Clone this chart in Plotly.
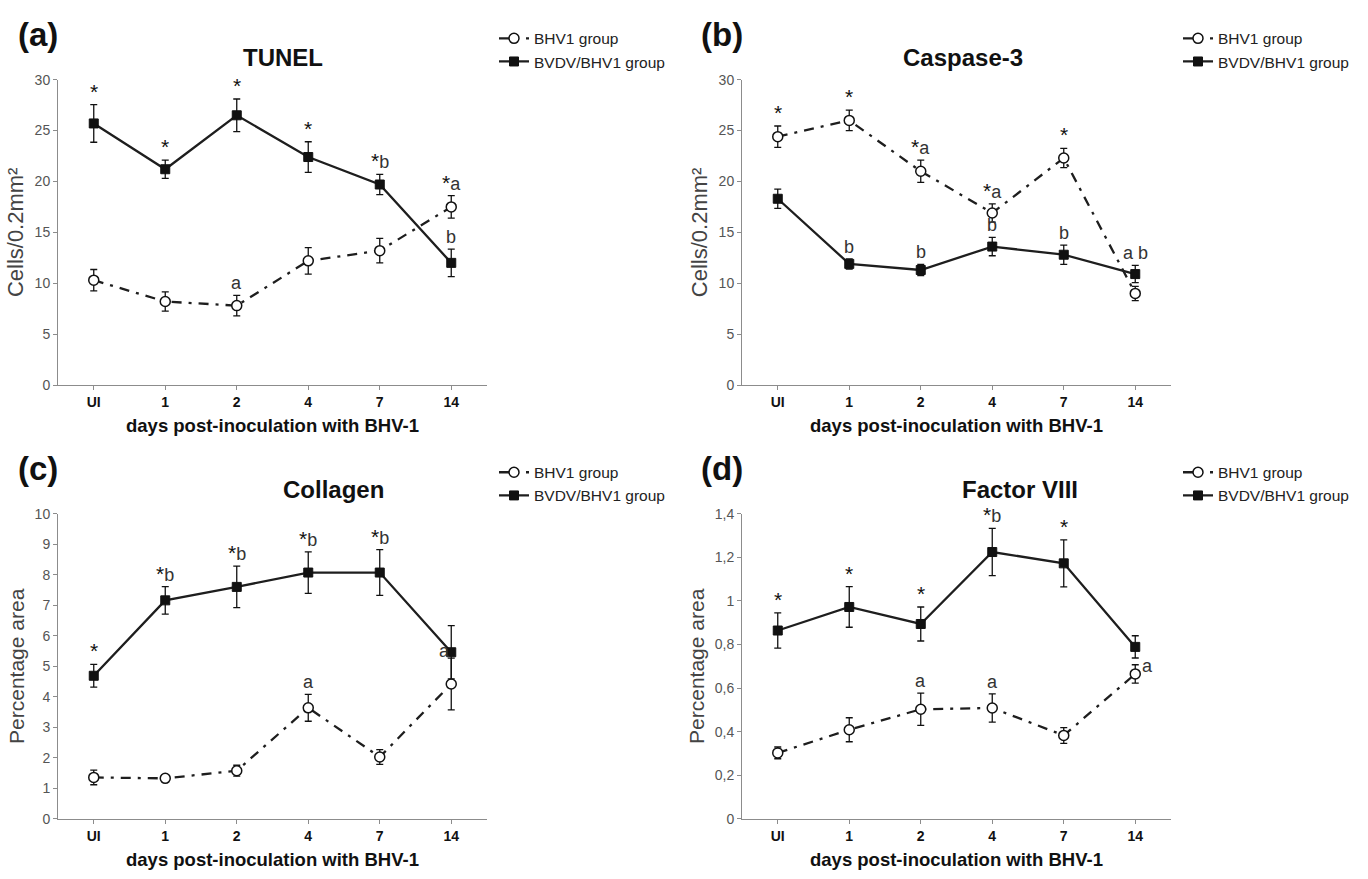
import plotly.graph_objects as go

# ---------------- data ----------------
days = ["UI", "1", "2", "4", "7", "14"]

tunel_bhv1 = [10.3, 8.2, 7.8, 12.2, 13.2, 17.5]
tunel_bhv1_err = [1.05, 0.95, 1.0, 1.3, 1.2, 1.1]
tunel_bvdv = [25.7, 21.2, 26.5, 22.4, 19.7, 12.0]
tunel_bvdv_err = [1.85, 0.9, 1.6, 1.5, 1.0, 1.35]

casp_bhv1 = [24.4, 26.0, 21.0, 16.9, 22.3, 9.0]
casp_bhv1_err = [1.05, 1.0, 1.1, 0.9, 0.95, 0.7]
casp_bvdv = [18.3, 11.9, 11.3, 13.6, 12.8, 10.9]
casp_bvdv_err = [0.95, 0.5, 0.55, 0.9, 0.95, 0.85]

coll_bhv1 = [1.36, 1.33, 1.58, 3.64, 2.03, 4.42]
coll_bhv1_err = [0.24, 0.08, 0.18, 0.44, 0.24, 0.85]
coll_bvdv = [4.69, 7.16, 7.6, 8.07, 8.07, 5.46]
coll_bvdv_err = [0.37, 0.45, 0.68, 0.68, 0.75, 0.87]

f8_bhv1 = [0.303, 0.409, 0.503, 0.509, 0.383, 0.665]
f8_bhv1_err = [0.027, 0.055, 0.074, 0.065, 0.036, 0.042]
f8_bvdv = [0.864, 0.972, 0.894, 1.224, 1.172, 0.789]
f8_bvdv_err = [0.081, 0.093, 0.078, 0.108, 0.108, 0.051]

tunel_marks = [("bvdv", 0, "*"), ("bvdv", 1, "*"), ("bvdv", 2, "*"), ("bvdv", 3, "*"),
               ("bvdv", 4, "*b"), ("bvdv", 5, "b"), ("bhv1", 2, "a"), ("bhv1", 5, "*a")]
casp_marks = [("bhv1", 0, "*"), ("bhv1", 1, "*"), ("bhv1", 2, "*a"), ("bhv1", 3, "*a"),
              ("bhv1", 4, "*"), ("bvdv", 1, "b"), ("bvdv", 2, "b"), ("bvdv", 3, "b"),
              ("bvdv", 4, "b"), ("bvdv", 5, "a b")]
coll_marks = [("bvdv", 0, "*"), ("bvdv", 1, "*b"), ("bvdv", 2, "*b"), ("bvdv", 3, "*b"),
              ("bvdv", 4, "*b"), ("bhv1", 3, "a"), ("bhv1", 5, "a")]
f8_marks = [("bvdv", 0, "*"), ("bvdv", 1, "*"), ("bvdv", 2, "*"), ("bvdv", 3, "*b"),
            ("bvdv", 4, "*"), ("bhv1", 2, "a"), ("bhv1", 3, "a"), ("bhv1", 5, "a")]

series_names = ["BHV1 group", "BVDV/BHV1 group"]
x_title = "days post-inoculation with BHV-1"

# ---------------- layout / style ----------------
W, H = 1368, 879
SANS = "Liberation Sans, Arial, sans-serif"


def px_x(p):
    return p / W


def px_y(p):
    return 1 - p / H


panels = [
    dict(key="a", title="TUNEL", ytitle="Cells/0.2mm²", ysize=22,
         bhv1=(tunel_bhv1, tunel_bhv1_err), bvdv=(tunel_bvdv, tunel_bvdv_err),
         marks=tunel_marks, yrange=[0, 30], dtick=5,
         box=(58, 487, 73, 384), title_xy=(283, 50), label_xy=(38, 27), legend_xy=(494, 14),
         shifts={}),
    dict(key="b", title="Caspase-3", ytitle="Cells/0.2mm²", ysize=22,
         bhv1=(casp_bhv1, casp_bhv1_err), bvdv=(casp_bvdv, casp_bvdv_err),
         marks=casp_marks, yrange=[0, 30], dtick=5,
         box=(742, 1171, 73, 384), title_xy=(963, 50), label_xy=(722, 27), legend_xy=(1178, 14),
         shifts={}),
    dict(key="c", title="Collagen", ytitle="Percentage area", ysize=21,
         bhv1=(coll_bhv1, coll_bhv1_err), bvdv=(coll_bvdv, coll_bvdv_err),
         marks=coll_marks, yrange=[0, 10], dtick=1,
         box=(58, 487, 515, 826), title_xy=(333, 490), label_xy=(38, 469), legend_xy=(494, 456),
         shifts={("bhv1", 5): (-7, -5)}),
    dict(key="d", title="Factor VIII", ytitle="Percentage area", ysize=21,
         bhv1=(f8_bhv1, f8_bhv1_err), bvdv=(f8_bvdv, f8_bvdv_err),
         marks=f8_marks, yrange=[0, 1.4], dtick=0.2,
         box=(742, 1171, 515, 826), title_xy=(1020, 490), label_xy=(722, 469), legend_xy=(1178, 456),
         shifts={("bhv1", 5): (12, -13)}),
]

fig = go.Figure()
annotations = []
layout = dict(
    width=W, height=H, margin=dict(l=0, r=0, t=0, b=0),
    paper_bgcolor="white", plot_bgcolor="white",
    separators=",.", showlegend=True,
)

LINE_COLOR = "#1e1e1e"


def mark_text(txt):
    out = ""
    for ch in txt:
        if ch == "*":
            out += "<span style='font-size:21px;color:#111'>*</span>"
        else:
            out += ch
    return out


for i, p in enumerate(panels):
    n = i + 1
    xa = "x" if n == 1 else f"x{n}"
    ya = "y" if n == 1 else f"y{n}"
    lg = "legend" if n == 1 else f"legend{n}"
    x0, x1, y0, y1 = p["box"]

    bhv1_v, bhv1_e = p["bhv1"]
    bvdv_v, bvdv_e = p["bvdv"]

    fig.add_trace(go.Scatter(
        x=days, y=bhv1_v, xaxis=xa, yaxis=ya, name=series_names[0], legend=lg,
        mode="lines+markers",
        line=dict(color=LINE_COLOR, width=2.3, dash="10px,7px,3px,7px"),
        marker=dict(symbol="circle", size=10, color="white", line=dict(color="#111", width=1.5)),
        error_y=dict(type="data", array=bhv1_e, visible=True, color="#111", thickness=1.3, width=3.5),
    ))
    fig.add_trace(go.Scatter(
        x=days, y=bvdv_v, xaxis=xa, yaxis=ya, name=series_names[1], legend=lg,
        mode="lines+markers",
        line=dict(color=LINE_COLOR, width=2.3),
        marker=dict(symbol="square", size=9, color="#111", line=dict(color="#111", width=1)),
        error_y=dict(type="data", array=bvdv_e, visible=True, color="#111", thickness=1.3, width=3.5),
    ))

    layout["xaxis" if n == 1 else f"xaxis{n}"] = dict(
        domain=[px_x(x0), px_x(x1)], anchor=ya, type="category",
        range=[-0.5, 5.5], showline=True, linecolor="#8c8c8c", linewidth=1,
        ticks="outside", ticklen=4, tickcolor="#8c8c8c",
        tickfont=dict(family=SANS, size=14, color="#111", weight="bold"),
        showgrid=False, zeroline=False,
        title=dict(text=f"<b>{x_title}</b>", font=dict(family=SANS, size=18.5, color="#111"),
                   standoff=10),
    )
    layout["yaxis" if n == 1 else f"yaxis{n}"] = dict(
        domain=[px_y(y1), px_y(y0)], anchor=xa,
        range=p["yrange"], dtick=p["dtick"], tick0=0,
        showline=True, linecolor="#8c8c8c", linewidth=1,
        ticks="outside", ticklen=4, tickcolor="#8c8c8c",
        tickfont=dict(family=SANS, size=14, color="#555"),
        showgrid=False, zeroline=False,
        title=dict(text=p["ytitle"], font=dict(family=SANS, size=p["ysize"], color="#444"),
                   standoff=4),
    )
    layout[lg] = dict(
        x=px_x(p["legend_xy"][0]), y=px_y(p["legend_xy"][1]), xanchor="left", yanchor="top",
        xref="paper", yref="paper", bgcolor="rgba(0,0,0,0)",
        font=dict(family=SANS, size=15.5, color="#222"), itemwidth=30,
        tracegroupgap=0,
    )

    # panel label and title
    annotations.append(dict(
        x=px_x(p["label_xy"][0]), y=px_y(p["label_xy"][1]), xref="paper", yref="paper",
        text=f"<b>({p['key']})</b>", showarrow=False, xanchor="center", yanchor="middle",
        font=dict(family=SANS, size=33, color="#111"),
    ))
    annotations.append(dict(
        x=px_x(p["title_xy"][0]), y=px_y(p["title_xy"][1]), xref="paper", yref="paper",
        text=f"<b>{p['title']}</b>", showarrow=False, xanchor="center", yanchor="middle",
        font=dict(family=SANS, size=24, color="#111"),
    ))

    # significance marks
    src = {"bhv1": (bhv1_v, bhv1_e), "bvdv": (bvdv_v, bvdv_e)}
    for ser, idx, txt in p["marks"]:
        vals, errs = src[ser]
        dx, dy = p["shifts"].get((ser, idx), (0, 0))
        annotations.append(dict(
            x=idx, y=vals[idx] + errs[idx], xref=xa, yref=ya,
            text=mark_text(txt), showarrow=False, xanchor="center", yanchor="bottom",
            xshift=dx, yshift=dy,
            font=dict(family=SANS, size=18, color="#333"),
        ))

layout["annotations"] = annotations
fig.update_layout(**layout)
fig.write_html("out.html")
